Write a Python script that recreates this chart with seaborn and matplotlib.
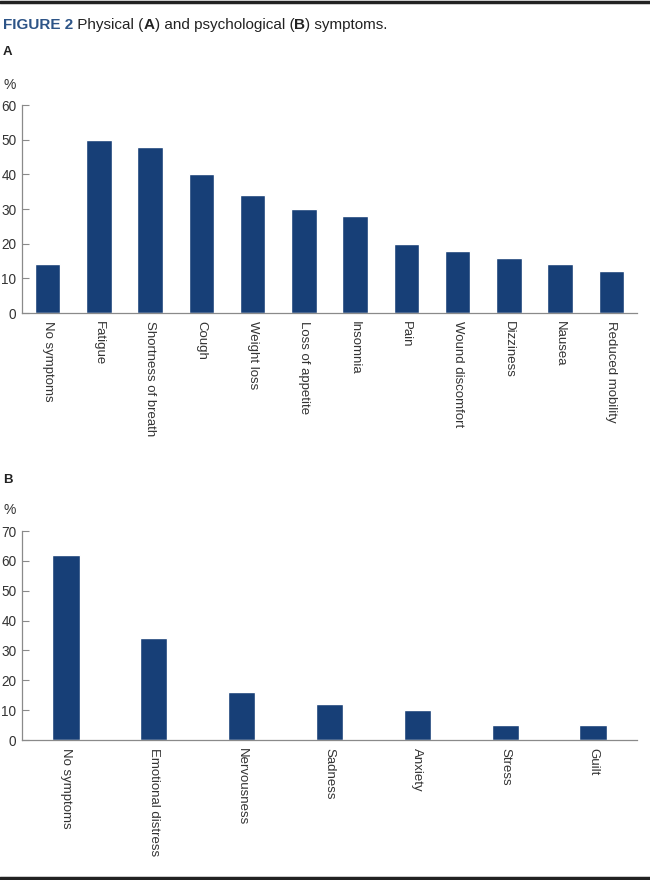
import seaborn as sns
import pandas as pd
import numpy as np
import matplotlib.pyplot as plt
from matplotlib.lines import Line2D

# physical symptoms (A)
phys_labels = ['No symptoms', 'Fatigue', 'Shortness of breath', 'Cough', 'Weight loss',
               'Loss of appetite', 'Insomnia', 'Pain', 'Wound discomfort', 'Dizziness',
               'Nausea', 'Reduced mobility']
phys_values = [14, 50, 48, 40, 34, 30, 28, 20, 18, 16, 14, 12]

# psychological symptoms (B)
psy_labels = ['No symptoms', 'Emotional distress', 'Nervousness', 'Sadness', 'Anxiety',
              'Stress', 'Guilt']
psy_values = [62, 34, 16, 12, 10, 5, 5]

BAR = '#173f77'
AXC = '#8a8a8a'
TXT = '#333333'

sns.set_style('white')
plt.rcParams['font.family'] = ['Liberation Sans', 'DejaVu Sans']


def draw_panel(ax, labels, values, ymax, width):
    df = pd.DataFrame({'Symptom': labels, 'Percent': values})
    sns.barplot(data=df, x='Symptom', y='Percent', order=labels, color=BAR,
                width=width, saturation=1, ax=ax)
    n = len(labels)
    ax.set_xlim(-0.5, n - 0.5)
    ax.set_ylim(0, ymax)
    ax.set_yticks(np.arange(0, ymax + 1, 10))
    ax.set_xticks(np.arange(n))
    ax.set_xticklabels(labels, rotation=270, ha='center', va='top', fontsize=9.5, color=TXT)
    ax.set_xticks(np.arange(n) + 0.5, minor=True)
    ax.tick_params(axis='x', which='major', length=0, pad=6)
    ax.tick_params(axis='x', which='minor', direction='in', length=4, width=0.8, color=AXC)
    ax.tick_params(axis='y', direction='in', length=5, width=0.8, color=AXC,
                   labelsize=9.8, labelcolor=TXT, pad=4, left=True)
    ax.set_xlabel('')
    ax.set_ylabel('')
    sns.despine(ax=ax)
    for s in ['left', 'bottom']:
        ax.spines[s].set_color(AXC)
        ax.spines[s].set_linewidth(0.9)


fig = plt.figure(figsize=(6.5, 8.8), dpi=100)
bg = fig.add_axes([0, 0, 1, 1])
bg.axis('off')
bg.set_xlim(0, 650)
bg.set_ylim(880, 0)

# rules top and bottom
bg.add_line(Line2D([0, 650], [2, 2], color='#222222', lw=2.5))
bg.add_line(Line2D([0, 650], [878, 878], color='#222222', lw=2.5))

# caption, built piece by piece
fs = 11
t = bg.text(3, 25, 'FIGURE 2', fontsize=fs, fontweight='bold', color='#2d5487', va='center')
parts = [(' Physical (', 'normal'), ('A', 'bold'), (') and psychological (', 'normal'),
         ('B', 'bold'), (') symptoms.', 'normal')]
for txt, wt in parts:
    t = bg.annotate(txt, xy=(1, 0), xycoords=t, va='bottom', ha='left',
                    fontsize=fs, fontweight=wt, color='#222222')

bg.text(3, 52, 'A', fontsize=9.5, fontweight='bold', color='#222222', va='center')
bg.text(3, 85, '%', fontsize=10, color=TXT, va='center')
bg.text(3, 480, 'B', fontsize=9.5, fontweight='bold', color='#222222', va='center')
bg.text(3, 510, '%', fontsize=10, color=TXT, va='center')

ax_a = fig.add_axes([22 / 650, 1 - 313 / 880, 615 / 650, 208 / 880])
draw_panel(ax_a, phys_labels, phys_values, 60, 0.5)

ax_b = fig.add_axes([22 / 650, 1 - 740 / 880, 615 / 650, 209 / 880])
draw_panel(ax_b, psy_labels, psy_values, 70, 0.31)

fig.savefig('out.png', dpi=100)
